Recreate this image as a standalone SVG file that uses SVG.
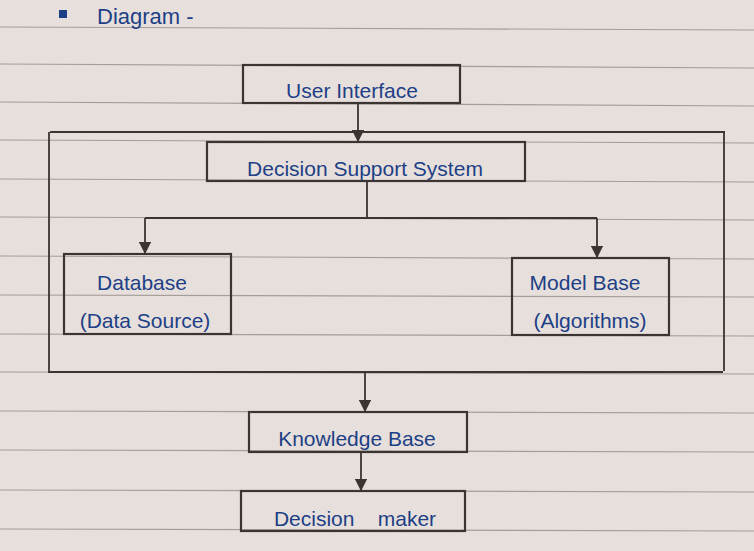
<svg xmlns="http://www.w3.org/2000/svg" width="754" height="551" viewBox="0 0 754 551">
<style>
.box{fill:none;stroke:#3b3430;stroke-width:2.2}
.ln{fill:none;stroke:#3b3430;stroke-width:1.8}
.t{font-family:"Liberation Sans",Arial,sans-serif;font-size:21px;fill:#1d3f86;text-anchor:middle}
.rule{stroke:#a59d99;stroke-width:1.2}
</style>
<defs>
<marker id="ah" viewBox="0 0 10 10" refX="9" refY="5" markerWidth="7" markerHeight="7" orient="auto">
<path d="M0,0 L10,5 L0,10 z" fill="#3b3430"/>
</marker>
</defs>
<rect width="754" height="551" fill="#e7dfdc"/>
<g id="paper">
<line class="rule" x1="0" y1="27" x2="754" y2="30"/>
<line class="rule" x1="0" y1="64" x2="754" y2="68"/>
<line class="rule" x1="0" y1="102" x2="754" y2="106"/>
<line class="rule" x1="0" y1="140" x2="754" y2="143"/>
<line class="rule" x1="0" y1="179" x2="754" y2="182"/>
<line class="rule" x1="0" y1="217" x2="754" y2="220"/>
<line class="rule" x1="0" y1="256" x2="754" y2="259"/>
<line class="rule" x1="0" y1="295" x2="754" y2="297"/>
<line class="rule" x1="0" y1="334" x2="754" y2="336"/>
<line class="rule" x1="0" y1="372" x2="754" y2="374"/>
<line class="rule" x1="0" y1="411" x2="754" y2="413"/>
<line class="rule" x1="0" y1="450" x2="754" y2="452"/>
<line class="rule" x1="0" y1="490" x2="754" y2="492"/>
<line class="rule" x1="0" y1="529" x2="754" y2="531"/>
</g>
<g id="title">
<rect x="59" y="10" width="8" height="8" fill="#1d3f86"/>
<text class="t" x="97" y="24" style="text-anchor:start;font-size:22px">Diagram -</text>
</g>
<g id="connectors">
<line class="ln" x1="358" y1="104" x2="358" y2="141" marker-end="url(#ah)"/>
<path class="ln" d="M50,132 L725,132 M49,132 L49,371 M724,132 L724,371 M48,372 L723,372"/>
<line class="ln" x1="367" y1="182" x2="367" y2="218"/>
<line class="ln" x1="145" y1="218" x2="597" y2="218"/>
<line class="ln" x1="145" y1="218" x2="145" y2="253" marker-end="url(#ah)"/>
<line class="ln" x1="597" y1="218" x2="597" y2="257" marker-end="url(#ah)"/>
<line class="ln" x1="365" y1="373" x2="365" y2="411" marker-end="url(#ah)"/>
<line class="ln" x1="361" y1="453" x2="361" y2="490" marker-end="url(#ah)"/>
</g>
<g id="user-interface">
<rect class="box" x="243" y="65" width="217" height="38"/>
<text class="t" x="352" y="98">User Interface</text>
</g>
<g id="dss">
<rect class="box" x="207" y="142" width="318" height="39"/>
<text class="t" x="365" y="176">Decision Support System</text>
</g>
<g id="database">
<rect class="box" x="64" y="254" width="167" height="80"/>
<text class="t" x="142" y="290">Database</text>
<text class="t" x="145" y="328">(Data Source)</text>
</g>
<g id="model-base">
<rect class="box" x="512" y="258" width="157" height="77"/>
<text class="t" x="585" y="290">Model Base</text>
<text class="t" x="590" y="328">(Algorithms)</text>
</g>
<g id="knowledge-base">
<rect class="box" x="249" y="412" width="218" height="40"/>
<text class="t" x="357" y="446">Knowledge Base</text>
</g>
<g id="decision-maker">
<rect class="box" x="241" y="491" width="224" height="40"/>
<text class="t" x="355" y="526" xml:space="preserve">Decision    maker</text>
</g>
</svg>
